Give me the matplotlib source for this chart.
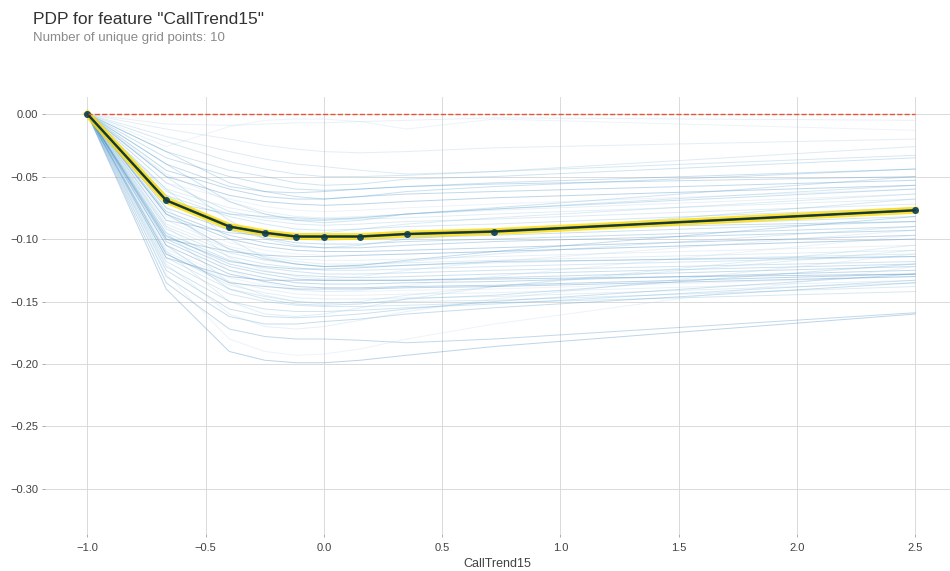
import numpy as np
import matplotlib.pyplot as plt

feature = 'CallTrend15'
grid_x = [-1.0, -0.667, -0.4, -0.25, -0.118, 0.0, 0.154, 0.35, 0.72, 2.5]
pdp_y = [0.0, -0.069, -0.090, -0.095, -0.098, -0.098, -0.098, -0.096, -0.094, -0.077]

# ICE curves, one row per instance (values at grid_x)
ice_lines = [
    [0, -0.026, -0.010, -0.005, -0.004, -0.004, -0.006, -0.012, -0.004, -0.013],
    [0, -0.008, -0.009, -0.008, -0.007, -0.007, -0.006, -0.005, -0.003, -0.005],
    [0, -0.012, -0.020, -0.025, -0.028, -0.030, -0.031, -0.030, -0.027, -0.020],
    [0, -0.018, -0.030, -0.036, -0.040, -0.042, -0.045, -0.048, -0.046, -0.026],
    [0, -0.022, -0.038, -0.044, -0.048, -0.050, -0.050, -0.049, -0.046, -0.033],
    [0, -0.030, -0.045, -0.050, -0.055, -0.057, -0.056, -0.052, -0.050, -0.035],
    [0, -0.035, -0.050, -0.056, -0.060, -0.061, -0.060, -0.058, -0.055, -0.044],
    [0, -0.040, -0.058, -0.062, -0.063, -0.062, -0.060, -0.058, -0.056, -0.050],
    [0, -0.045, -0.060, -0.066, -0.068, -0.068, -0.066, -0.064, -0.062, -0.053],
    [0, -0.050, -0.065, -0.070, -0.072, -0.073, -0.072, -0.070, -0.067, -0.057],
    [0, -0.055, -0.068, -0.074, -0.077, -0.078, -0.077, -0.075, -0.072, -0.060],
    [0, -0.048, -0.070, -0.078, -0.082, -0.083, -0.082, -0.080, -0.077, -0.064],
    [0, -0.060, -0.075, -0.080, -0.084, -0.085, -0.084, -0.083, -0.080, -0.068],
    [0, -0.062, -0.080, -0.085, -0.088, -0.089, -0.088, -0.086, -0.084, -0.072],
    [0, -0.065, -0.082, -0.088, -0.092, -0.093, -0.092, -0.090, -0.088, -0.075],
    [0, -0.070, -0.088, -0.094, -0.097, -0.098, -0.098, -0.096, -0.093, -0.082],
    [0, -0.068, -0.090, -0.097, -0.100, -0.101, -0.100, -0.099, -0.097, -0.086],
    [0, -0.075, -0.093, -0.099, -0.103, -0.104, -0.104, -0.102, -0.100, -0.090],
    [0, -0.078, -0.097, -0.103, -0.106, -0.107, -0.107, -0.105, -0.102, -0.093],
    [0, -0.080, -0.100, -0.106, -0.109, -0.110, -0.110, -0.109, -0.107, -0.097],
    [0, -0.082, -0.103, -0.109, -0.112, -0.113, -0.113, -0.112, -0.110, -0.100],
    [0, -0.085, -0.106, -0.112, -0.116, -0.117, -0.117, -0.116, -0.114, -0.105],
    [0, -0.088, -0.108, -0.114, -0.118, -0.120, -0.120, -0.119, -0.117, -0.109],
    [0, -0.090, -0.111, -0.117, -0.120, -0.122, -0.122, -0.121, -0.119, -0.112],
    [0, -0.092, -0.114, -0.120, -0.123, -0.125, -0.125, -0.124, -0.122, -0.114],
    [0, -0.095, -0.117, -0.123, -0.126, -0.128, -0.128, -0.127, -0.125, -0.118],
    [0, -0.097, -0.120, -0.126, -0.129, -0.130, -0.131, -0.130, -0.128, -0.120],
    [0, -0.100, -0.122, -0.128, -0.132, -0.133, -0.133, -0.133, -0.131, -0.122],
    [0, -0.102, -0.125, -0.131, -0.135, -0.136, -0.136, -0.135, -0.134, -0.125],
    [0, -0.105, -0.128, -0.134, -0.138, -0.139, -0.139, -0.138, -0.137, -0.128],
    [0, -0.108, -0.131, -0.137, -0.141, -0.142, -0.142, -0.141, -0.140, -0.130],
    [0, -0.110, -0.134, -0.140, -0.144, -0.145, -0.145, -0.144, -0.143, -0.133],
    [0, -0.112, -0.137, -0.143, -0.147, -0.148, -0.148, -0.147, -0.146, -0.135],
    [0, -0.115, -0.140, -0.146, -0.150, -0.151, -0.151, -0.150, -0.149, -0.138],
    [0, -0.118, -0.144, -0.150, -0.153, -0.154, -0.154, -0.153, -0.151, -0.142],
    [0, -0.122, -0.150, -0.156, -0.158, -0.158, -0.157, -0.155, -0.152, -0.133],
    [0, -0.125, -0.156, -0.162, -0.163, -0.162, -0.160, -0.156, -0.150, -0.128],
    [0, -0.130, -0.162, -0.168, -0.168, -0.166, -0.164, -0.160, -0.155, -0.135],
    [0, -0.135, -0.172, -0.178, -0.180, -0.180, -0.181, -0.183, -0.180, -0.159],
    [0, -0.140, -0.190, -0.197, -0.199, -0.199, -0.197, -0.193, -0.186, -0.160],
    [0, -0.128, -0.180, -0.190, -0.193, -0.192, -0.188, -0.180, -0.168, -0.122],
    [0, -0.120, -0.160, -0.170, -0.172, -0.170, -0.165, -0.158, -0.148, -0.112],
    [0, -0.110, -0.150, -0.160, -0.162, -0.160, -0.155, -0.148, -0.138, -0.105],
    [0, -0.060, -0.100, -0.115, -0.120, -0.122, -0.121, -0.118, -0.112, -0.090],
    [0, -0.050, -0.085, -0.100, -0.105, -0.107, -0.105, -0.100, -0.095, -0.068],
    [0, -0.040, -0.070, -0.080, -0.085, -0.087, -0.085, -0.080, -0.075, -0.050],
    [0, -0.070, -0.080, -0.082, -0.083, -0.084, -0.083, -0.080, -0.076, -0.060],
    [0, -0.085, -0.095, -0.097, -0.098, -0.098, -0.097, -0.095, -0.092, -0.086],
    [0, -0.100, -0.110, -0.113, -0.114, -0.114, -0.113, -0.112, -0.110, -0.100],
    [0, -0.115, -0.130, -0.133, -0.133, -0.133, -0.133, -0.133, -0.132, -0.128],
    [0, -0.090, -0.125, -0.135, -0.140, -0.142, -0.141, -0.137, -0.130, -0.097],
    [0, -0.075, -0.115, -0.125, -0.130, -0.132, -0.130, -0.125, -0.118, -0.093],
    [0, -0.095, -0.135, -0.145, -0.150, -0.152, -0.150, -0.145, -0.138, -0.109],
    [0, -0.065, -0.090, -0.095, -0.096, -0.095, -0.092, -0.088, -0.083, -0.064],
    [0, -0.055, -0.078, -0.083, -0.085, -0.085, -0.083, -0.080, -0.076, -0.057],
    [0, -0.105, -0.140, -0.148, -0.152, -0.153, -0.152, -0.148, -0.145, -0.120],
    [0, -0.030, -0.055, -0.062, -0.066, -0.068, -0.066, -0.062, -0.058, -0.044],
    [0, -0.080, -0.108, -0.116, -0.120, -0.122, -0.121, -0.117, -0.110, -0.082],
    [0, -0.098, -0.118, -0.122, -0.124, -0.124, -0.123, -0.121, -0.118, -0.114],
    [0, -0.112, -0.135, -0.138, -0.140, -0.140, -0.140, -0.139, -0.138, -0.130],
]

x_ticks = [-1.0, -0.5, 0.0, 0.5, 1.0, 1.5, 2.0, 2.5]
y_ticks = [0.0, -0.05, -0.10, -0.15, -0.20, -0.25, -0.30]

plt.rcParams['font.family'] = ['Liberation Sans', 'DejaVu Sans']

fig = plt.figure(figsize=(9.5, 5.71), dpi=100, facecolor='white')
fig.text(0.035, 0.958, 'PDP for feature "%s"' % feature, fontsize=12.5,
         color='#333333', va='baseline')
fig.text(0.035, 0.928, 'Number of unique grid points: %d' % len(grid_x),
         fontsize=9.5, color='#8a8a8a', va='baseline')

ax = fig.add_axes([0.047, 0.064, 0.953, 0.766])

colors = plt.get_cmap('Blues')(np.linspace(0, 1, 20))[5:15]
for i, row in enumerate(ice_lines):
    ax.plot(grid_x, row, lw=0.7, c=colors[i % 10], alpha=0.3)

ax.plot(grid_x, pdp_y, color='#FEDC00', lw=5, alpha=0.8)
ax.plot(grid_x, pdp_y, color='#1A4E5D', lw=1.8, marker='o', markersize=4)
ax.plot(grid_x, [0] * len(grid_x), ls='--', lw=1, color='#E75438')
# darker core line like the original
ax.plot(grid_x, pdp_y, color='#1d2b18', lw=1.2, alpha=0.7)

ax.set_xlim(-1.181, 2.648)
ax.set_ylim(-0.3364, 0.0136)
ax.set_xticks(x_ticks)
ax.set_yticks(y_ticks)
ax.set_xlabel(feature, fontsize=9, color='#424242', labelpad=3)

ax.set_facecolor('white')
ax.set_frame_on(False)
ax.tick_params(axis='both', which='major', labelsize=8, labelcolor='#424242',
               colors='#9E9E9E', length=2.5, width=0.6, pad=2)
ax.tick_params(axis='x', pad=4)
ax.grid(True, 'major', 'both', ls='-', lw=0.6, c='#d5d5d5')
ax.set_axisbelow(True)

fig.savefig('out.png', dpi=100, facecolor='white')
